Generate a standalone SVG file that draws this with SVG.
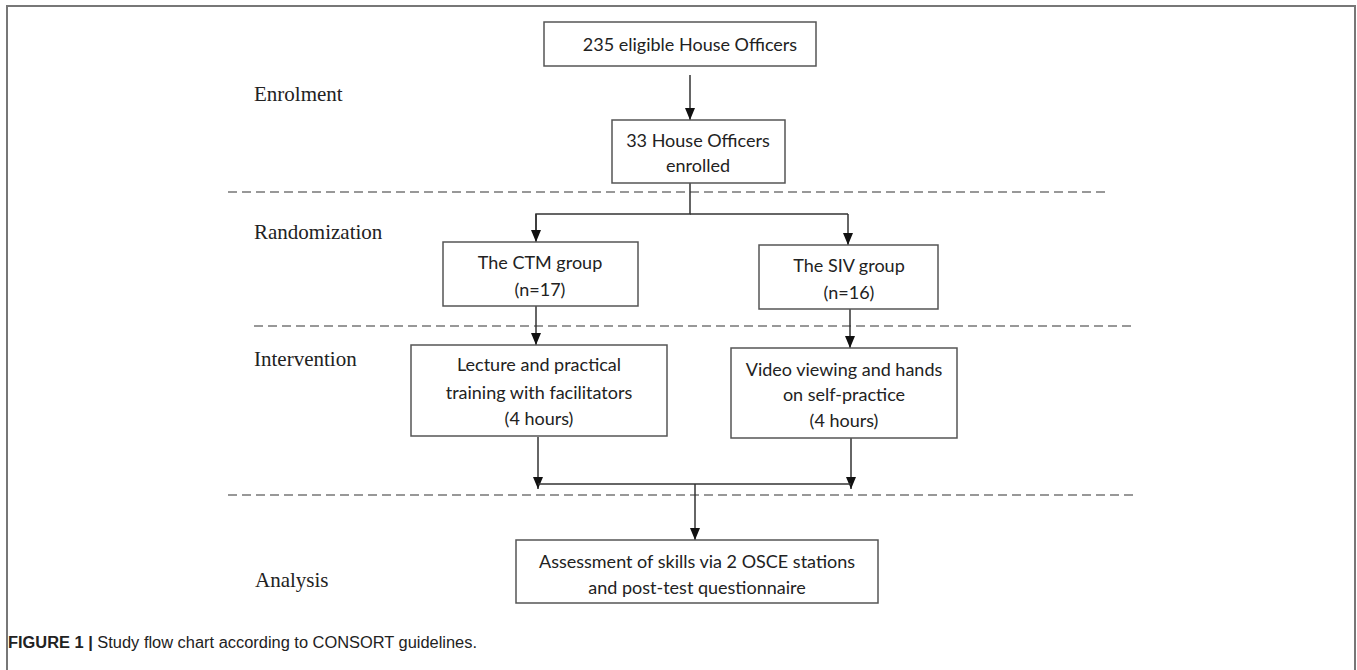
<svg xmlns="http://www.w3.org/2000/svg" width="1357" height="670" viewBox="0 0 1357 670">
<style>
.box{fill:#fff;stroke:#555;stroke-width:1.5}
.bt{font-family:Lato,"Open Sans",sans-serif;font-size:18px;fill:#222;text-anchor:middle}
.lab{font-family:"Liberation Serif",serif;font-size:21px;fill:#222}
.dash{stroke:#777;stroke-width:1.5;stroke-dasharray:9,5;fill:none}
.con{stroke:#333;stroke-width:1.5;fill:none}
.arr{stroke:#333;stroke-width:1.5;fill:none;marker-end:url(#ah)}
</style>
<defs>
<marker id="ah" markerUnits="userSpaceOnUse" markerWidth="12" markerHeight="10" refX="12" refY="5" orient="auto">
<path d="M0,0 L12,5 L0,10 z" fill="#111"/>
</marker>
</defs>
<rect width="1357" height="670" fill="#fff"/>
<path d="M7,670 V6 H1355 V670" fill="none" stroke="#777" stroke-width="2"/>
<g id="labels">
<text class="lab" x="254" y="101">Enrolment</text>
<text class="lab" x="254" y="239">Randomization</text>
<text class="lab" x="254" y="366">Intervention</text>
<text class="lab" x="255" y="587">Analysis</text>
</g>
<g id="separators">
<line class="dash" x1="228" y1="192" x2="1107" y2="192"/>
<line class="dash" x1="254" y1="326" x2="1131" y2="326"/>
<line class="dash" x1="228" y1="495" x2="1135" y2="495"/>
</g>
<g id="connectors">
<line class="arr" x1="690" y1="75" x2="690" y2="120"/>
<polyline class="con" points="690,183 690,214 536,214 536,230"/>
<line class="arr" x1="536" y1="214" x2="536" y2="242"/>
<polyline class="con" points="690,214 848,214"/>
<line class="arr" x1="848" y1="214" x2="848" y2="245"/>
<line class="arr" x1="536" y1="306" x2="536" y2="345"/>
<line class="arr" x1="850" y1="309" x2="850" y2="348"/>
<line class="arr" x1="538" y1="437" x2="538" y2="489"/>
<line class="arr" x1="851" y1="438" x2="851" y2="489"/>
<line class="con" x1="538" y1="484" x2="851" y2="484"/>
<line class="arr" x1="695" y1="484" x2="695" y2="540"/>
</g>
<g id="n1">
<rect class="box" x="544" y="22" width="272" height="44"/>
<text class="bt" x="690" y="51">235 eligible House Officers</text>
</g>
<g id="n2">
<rect class="box" x="612" y="120" width="173" height="63"/>
<text class="bt" x="698" y="147">33 House Officers</text>
<text class="bt" x="698" y="172">enrolled</text>
</g>
<g id="n3">
<rect class="box" x="443" y="242" width="195" height="64"/>
<text class="bt" x="540" y="269">The CTM group</text>
<text class="bt" x="540" y="296">(n=17)</text>
</g>
<g id="n4">
<rect class="box" x="759" y="245" width="179" height="64"/>
<text class="bt" x="849" y="272">The SIV group</text>
<text class="bt" x="849" y="299">(n=16)</text>
</g>
<g id="n5">
<rect class="box" x="411" y="345" width="256" height="91"/>
<text class="bt" x="539" y="371">Lecture and practical</text>
<text class="bt" x="539" y="399">training with facilitators</text>
<text class="bt" x="539" y="425">(4 hours)</text>
</g>
<g id="n6">
<rect class="box" x="731" y="348" width="226" height="90"/>
<text class="bt" x="844" y="376">Video viewing and hands</text>
<text class="bt" x="844" y="401">on self-practice</text>
<text class="bt" x="844" y="427">(4 hours)</text>
</g>
<g id="n7">
<rect class="box" x="516" y="540" width="362" height="63"/>
<text class="bt" x="697" y="568">Assessment of skills via 2 OSCE stations</text>
<text class="bt" x="697" y="594">and post-test questionnaire</text>
</g>
<text x="8" y="648" font-family="'Liberation Sans',Arial,sans-serif" font-size="16" fill="#222" textLength="469" lengthAdjust="spacingAndGlyphs"><tspan font-weight="bold">FIGURE 1 |</tspan> Study flow chart according to CONSORT guidelines.</text>
</svg>
